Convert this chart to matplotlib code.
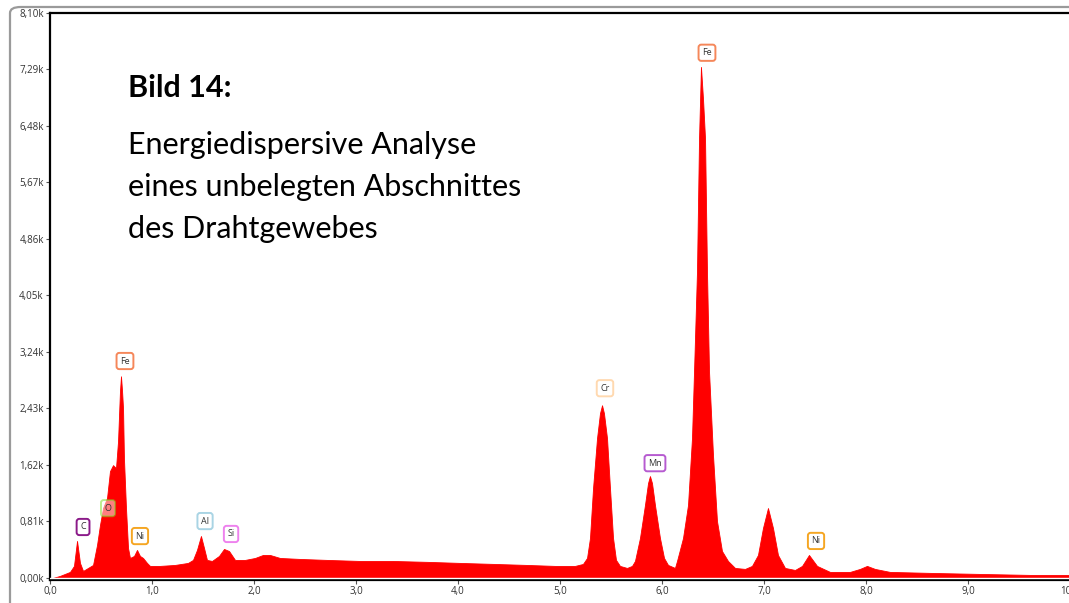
import matplotlib
matplotlib.use("Agg")
import matplotlib.pyplot as plt
from matplotlib.patches import FancyBboxPatch

# Spectrum (energy in keV, counts)
energy_kev = [0.03, 0.098, 0.196, 0.235, 0.265, 0.294, 0.324, 0.373, 0.422, 0.461,
              0.490, 0.520, 0.559, 0.588, 0.618, 0.647, 0.667, 0.686, 0.696, 0.706,
              0.716, 0.725, 0.745, 0.765, 0.784, 0.824, 0.853, 0.882, 0.912, 0.951,
              0.980, 1.078, 1.225, 1.353, 1.402, 1.441, 1.480, 1.510, 1.539, 1.588,
              1.657, 1.706, 1.755, 1.814, 1.912, 2.010, 2.088, 2.157, 2.255, 2.451,
              2.716, 3.039, 3.363, 3.725, 4.020, 4.363, 4.676, 4.951, 5.147, 5.225,
              5.265, 5.294, 5.324, 5.363, 5.392, 5.412, 5.431, 5.461, 5.490, 5.520,
              5.549, 5.588, 5.657, 5.706, 5.735, 5.784, 5.833, 5.863, 5.882, 5.902,
              5.931, 5.980, 6.020, 6.059, 6.127, 6.147, 6.206, 6.255, 6.294, 6.314,
              6.343, 6.363, 6.382, 6.402, 6.422, 6.441, 6.461, 6.500, 6.539, 6.588,
              6.647, 6.716, 6.814, 6.882, 6.941, 6.990, 7.039, 7.088, 7.137, 7.206,
              7.304, 7.373, 7.441, 7.520, 7.647, 7.843, 7.941, 8.010, 8.088, 8.235,
              8.627, 9.118, 9.608, 9.990]
counts = [0, 29, 86, 172, 530, 215, 100, 143, 186, 472,
          758, 1002, 1145, 1531, 1617, 1574, 1960, 2676, 2891, 2690,
          2433, 1717, 1002, 429, 286, 315, 401, 315, 286, 215,
          172, 172, 186, 215, 258, 401, 601, 429, 258, 243,
          315, 415, 386, 258, 258, 286, 329, 329, 286, 272,
          258, 243, 243, 229, 215, 200, 186, 172, 172, 200,
          286, 572, 1288, 2003, 2361, 2476, 2361, 2003, 1288, 572,
          258, 172, 143, 172, 243, 572, 1045, 1359, 1460, 1359,
          1045, 572, 286, 186, 143, 243, 572, 1045, 2003, 2962,
          4393, 6296, 7327, 6869, 6296, 4393, 2962, 1760, 816, 386,
          243, 143, 129, 172, 329, 716, 1002, 716, 329, 143,
          114, 172, 329, 172, 86, 86, 129, 172, 129, 86,
          72, 57, 43, 43]

# Element labels: name, energy (keV), label height (counts), edge colour
label_names = ["C", "O", "Fe", "Ni", "Al", "Si", "Cr", "Mn", "Fe", "Ni"]
label_energy = [0.324, 0.569, 0.735, 0.882, 1.520, 1.775, 5.441, 5.931, 6.441, 7.510]
label_counts = [730, 1000, 3110, 600, 815, 630, 2720, 1645, 7530, 530]
label_colors = ["#8B1A89", "#7CDB1E", "#F5875A", "#F5A623", "#A9D4E4", "#EE82EE",
                "#FFD9B0", "#B65BD0", "#F5875A", "#F5A623"]

yticks = [0, 810, 1620, 2430, 3240, 4050, 4860, 5670, 6480, 7290, 8100]
ytick_labels = ["0,00k", "0,81k", "1,62k", "2,43k", "3,24k", "4,05k", "4,86k",
                "5,67k", "6,48k", "7,29k", "8,10k"]
xticks = [0, 1, 2, 3, 4, 5, 6, 7, 8, 9, 10]
xtick_labels = ["0,0", "1,0", "2,0", "3,0", "4,0", "5,0", "6,0", "7,0", "8,0", "9,0", "10,0"]

title_text = "Bild 14:"
body_lines = ["Energiedispersive Analyse", "eines unbelegten Abschnittes", "des Drahtgewebes"]

W, H = 1069, 603
fig = plt.figure(figsize=(W / 100, H / 100), dpi=100)
fig.patch.set_facecolor("white")

# outer gray frame
frame = FancyBboxPatch((10 / W, -0.2), 1.2, (H - 7) / H + 0.2,
                       boxstyle="round,pad=0,rounding_size=0.01",
                       transform=fig.transFigure, fill=False,
                       edgecolor="#9a9a9a", linewidth=1.6, zorder=0)
fig.patches.append(frame)

ax = fig.add_axes([50 / W, (H - 580) / H, 1020 / W, 567 / H])
ax.fill_between(energy_kev, 0, counts, color="#FF0000", linewidth=0.6, edgecolor="#FF0000", zorder=2)
ax.axhline(0, color="white", linewidth=1.0, zorder=3)
ax.set_xlim(0, 10)
ax.set_ylim(-30, 8100)

ax.spines["right"].set_visible(False)
for side in ["left", "top", "bottom"]:
    ax.spines[side].set_linewidth(1.6)
    ax.spines[side].set_color("black")

ax.set_yticks(yticks)
ax.set_yticklabels(ytick_labels)
ax.set_xticks(xticks)
ax.set_xticklabels(xtick_labels)
ax.tick_params(axis="both", direction="out", length=3, width=0.8, color="#555555",
               labelsize=7, labelcolor="#333333", pad=1.5)
for lab in ax.get_xticklabels() + ax.get_yticklabels():
    lab.set_family("Open Sans")

for name, e, c, col in zip(label_names, label_energy, label_counts, label_colors):
    ax.text(e, c, name, ha="center", va="center", fontsize=6.5, family="Open Sans",
            color="#333333", zorder=5,
            bbox=dict(boxstyle="round,pad=0.4,rounding_size=0.3", facecolor="white",
                      alpha=0.5 if name == "O" else 1.0, edgecolor=col, linewidth=1.4))

fig.text(128 / W, 1 - 88 / H, title_text, fontsize=22, fontweight="bold",
         family="Lato", color="black", va="center", ha="left")
for i, line in enumerate(body_lines):
    fig.text(128 / W, 1 - (145 + 42 * i) / H, line, fontsize=22, family="Lato",
             color="black", va="center", ha="left")

fig.savefig("out.png", dpi=100, facecolor="white")
